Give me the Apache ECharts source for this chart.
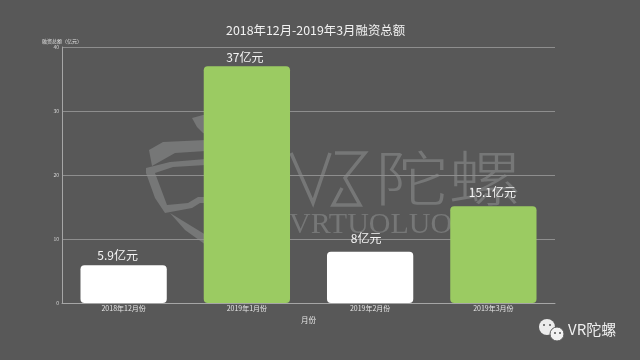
<!DOCTYPE html>
<html>
<head>
<meta charset="utf-8">
<style>
html, body { margin: 0; padding: 0; background: #585858; }
#chart { width: 640px; height: 360px; }
</style>
<script src="https://cdn.jsdelivr.net/npm/echarts@6/dist/echarts.min.js"></script>
</head>
<body>
<div id="chart"></div>
<script>
var months = ['2018年12月份', '2019年1月份', '2019年2月份', '2019年3月份'];
var funds = [5.9, 37, 8, 15.1];
var barColors = ['#ffffff', '#9bcb62', '#ffffff', '#9bcb62'];
var yTicks = [0, 10, 20, 30, 40];
var fontName = '"Noto Sans CJK SC", "Noto Sans", sans-serif';
var markColor = '#767777';
var bgColor = '#585858';

// the labels sit a bit off centre in the original
var labelOffsets = [[-6, -1], [-2, 0], [-4, -4], [-1, -5]];

var myChart = echarts.init(document.getElementById('chart'));

function markPolygon(points) {
    return { type: 'polygon', z: -1, shape: { points: points }, style: { fill: markColor } };
}
function markLine(points) {
    return { type: 'polyline', z: -1, shape: { points: points }, style: { stroke: markColor, lineWidth: 3.5, fill: null } };
}
function eye(x, y) {
    return { type: 'circle', shape: { cx: x, cy: y, r: 1 }, style: { fill: '#555555' } };
}

var option = {
    backgroundColor: bgColor,
    animation: false,
    title: {
        text: '2018年12月-2019年3月融资总额',
        left: 221,
        top: 19,
        textStyle: { color: '#f2f2f2', fontSize: 12.4, fontWeight: 'normal', fontFamily: fontName }
    },
    grid: { left: 62, right: 85, top: 47, bottom: 57 },
    xAxis: {
        type: 'category',
        data: months,
        name: '月份',
        nameLocation: 'middle',
        nameGap: 7,
        nameTextStyle: { color: '#e6e6e6', fontSize: 7.5, fontFamily: fontName },
        axisLine: { lineStyle: { color: '#a6a6a6' } },
        axisTick: { show: false },
        axisLabel: { color: '#e6e6e6', fontSize: 7, margin: 2, fontFamily: fontName }
    },
    yAxis: {
        type: 'value',
        min: yTicks[0],
        max: yTicks[yTicks.length - 1],
        interval: 10,
        name: '融资总额（亿元）',
        nameGap: 3,
        nameLocation: 'end',
        nameTextStyle: { color: '#e0e0e0', fontSize: 5, align: 'center', fontFamily: fontName },
        axisLine: { show: true, lineStyle: { color: '#a6a6a6' } },
        axisTick: { show: false },
        axisLabel: { color: '#d9d9d9', fontSize: 5, margin: 3, fontFamily: fontName },
        splitLine: { lineStyle: { color: '#8e8e8e', width: 1 } }
    },
    series: [{
        type: 'bar',
        barWidth: '70%',
        data: funds.map(function (v, i) {
            return {
                value: v,
                itemStyle: { color: barColors[i], borderRadius: 4 },
                label: { offset: labelOffsets[i] }
            };
        }),
        label: {
            show: true,
            position: 'top',
            distance: 3,
            color: '#f5f5f5',
            fontSize: 12,
            fontFamily: fontName,
            formatter: '{c}亿元'
        }
    }],
    graphic: [
        // watermark, shield part
        markPolygon([[192, 118], [203, 115], [206, 115], [206, 134], [203, 133], [197, 127]]),
        markPolygon([[149, 150], [163, 142], [206, 140], [206, 151], [175, 153], [152, 166]]),
        markPolygon([[146, 168], [170, 162], [206, 159], [206, 165], [173, 167], [155, 173], [167, 205], [188, 203], [198, 197], [206, 197], [206, 203], [200, 203], [192, 208], [165, 213], [155, 198], [146, 173]]),
        markPolygon([[170, 213], [206, 235], [206, 245], [185, 230]]),
        // watermark, logo letters and text
        markLine([[291, 153], [313, 203], [330, 153]]),
        markLine([[335, 153], [365, 153], [345, 178], [360, 205], [333, 205], [342, 188]]),
        { type: 'text', z: -1, left: 375, top: 148, scaleX: 1.22, style: { text: '陀螺', fill: markColor, fontSize: 60, fontWeight: 200, fontFamily: fontName } },
        { type: 'text', z: -1, left: 289, top: 210, style: { text: 'VRTUOLUO', fill: markColor, fontSize: 30, fontFamily: '"Liberation Serif", serif' } },
        // wechat footer
        { type: 'circle', shape: { cx: 547, cy: 327, r: 8 }, style: { fill: '#ececec' } },
        { type: 'circle', shape: { cx: 557, cy: 334, r: 7 }, style: { fill: '#f2f2f2', stroke: bgColor, lineWidth: 1 } },
        eye(544, 325), eye(550, 325), eye(555, 333), eye(560, 333),
        { type: 'text', left: 568, top: 322, style: { text: 'VR陀螺', fill: '#eeeeee', fontSize: 15, fontFamily: fontName } }
    ]
};

if (option && typeof option === 'object') {
    myChart.setOption(option);
}
</script>
</body>
</html>
